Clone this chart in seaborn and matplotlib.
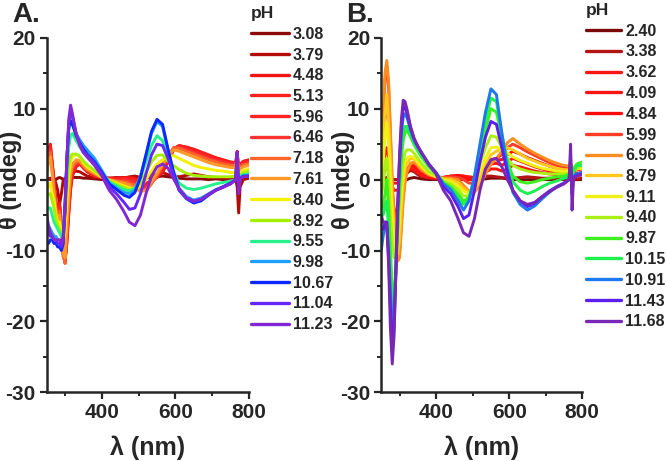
import matplotlib
matplotlib.use("Agg")
import matplotlib.pyplot as plt
import seaborn as sns
import pandas as pd

# ---------------- data ----------------
WAVELENGTH = [250, 255, 260, 265, 270, 275, 280, 285, 290, 295, 300, 305, 310, 315, 320,
              330, 340, 350, 360, 380, 400,
              420, 440, 460, 475, 490, 505, 520, 535, 550, 565,
              580, 595, 610, 630, 650, 670, 690, 710, 730, 750, 764, 768, 772, 776, 785, 800]

PH_A = ["3.08", "3.79", "4.48", "5.13", "5.96", "6.46", "7.18", "7.61",
        "8.40", "8.92", "9.55", "9.98", "10.67", "11.04", "11.23"]
COLORS_A = ["#8B0A0A", "#B40A0A", "#F01414", "#FF1E1E", "#FF2323", "#FF3232", "#FF6428",
            "#FF9A28", "#F5F000", "#A5F000", "#28F08C", "#1EA0FF", "#0A28FF", "#6428FF", "#8228D2"]

A_308 = [0, 0.1, 0, 0.2, 0.1, 0, 0.2, 0.3, 0.2, 0, 0.1, 0.2, 0.3, 0.4, 0.3, 0.3, 0.3, 0.2, 0.2, 0.1, 0,
         0.1, 0.2, 0.3, 0.2, 0.4, 0.3, 0.2, 0.3, 0.4, 0.5,
         0.4, 0.3, 0.2, 0.1, 0.1, 0.1, 0, 0.1, 0, 0, 0, 0.3, 0, 0.1, 0.1, 0.2]
A_379 = [0, 0.1, 0.2, 0.1, 0, -0.5, -1.5, -3.5, -2, 0, 0.2, 0.4, 0.6, 0.8, 1.0, 1.2, 1.1, 0.8, 0.5, 0.3, 0.2,
         0.2, 0.3, 0.2, 0.4, 0.5, 0.3, 0.3, 0.5, 0.8, 1.0,
         0.7, 0.5, 0.4, 0.6, 0.8, 0.6, 0.4, 0.3, 0.2, 0.1, 0, -1.0, -4.7, -1.0, 0, 0.2]
A_448 = [2.5, 4.2, 5.0, 2.5, 0, -3, -4, -3.2, -6, -10, -11.3, -9, -5, -1.5, 0.5, 1.8, 2.2, 1.6, 1.1, 0.5, 0.3,
         0.2, 0.2, 0.3, 0.3, 0.2, -0.3, -0.5, -0.2, 0.3, 1.0,
         2.5, 4.2, 4.8, 4.6, 4.3, 3.9, 3.5, 3.1, 2.8, 2.5, 2.4, 4.0, 1.5, 2.2, 2.6, 2.8]
A_513 = [2.8, 4.4, 4.8, 2.2, -0.5, -3.3, -4.2, -3.5, -6.5, -10.5, -11.8, -8.5, -4.5, -1, 0.8, 2, 2.3, 1.7, 1.2, 0.5, 0.3,
         0.2, 0.1, 0.2, 0.2, 0, -0.5, -0.7, -0.2, 0.4, 1.3,
         2.8, 4.3, 4.8, 4.5, 4.2, 3.8, 3.4, 3.0, 2.7, 2.4, 2.3, 3.8, 1.4, 2.1, 2.5, 2.7]
A_596 = [2.2, 4.0, 4.5, 2, -0.5, -3.5, -4.5, -4, -7, -10.5, -11.5, -8, -4, -0.5, 1, 2, 2.2, 1.7, 1.2, 0.6, 0.3,
         0.1, 0, 0.1, 0, -0.2, -0.8, -1.0, -0.3, 0.5, 1.6,
         3.0, 4.4, 4.7, 4.4, 4.0, 3.6, 3.2, 2.8, 2.5, 2.3, 2.2, 3.6, 1.3, 2.0, 2.4, 2.5]
A_646 = [1.8, 3.6, 4.2, 1.5, -1, -3.8, -4.8, -4.3, -7.2, -10.8, -11.2, -7.5, -3.5, 0, 1.5, 2.3, 2.4, 1.8, 1.3, 0.7, 0.3,
         0, -0.1, -0.1, -0.2, -0.5, -1.1, -1.3, -0.5, 0.5, 1.8,
         3.2, 4.5, 4.6, 4.2, 3.8, 3.4, 3.0, 2.7, 2.4, 2.2, 2.1, 3.4, 1.2, 1.9, 2.2, 2.4]
A_718 = [1.5, 3.0, 3.8, 1.2, -1.5, -4, -5, -4.5, -7.5, -10.8, -11.8, -7, -3, 0.5, 1.8, 2.5, 2.5, 1.9, 1.4, 0.8, 0.3,
         0, -0.2, -0.3, -0.5, -0.8, -1.4, -1.6, -0.6, 0.6, 2.0,
         3.3, 4.5, 4.4, 4.0, 3.6, 3.2, 2.8, 2.5, 2.2, 2.0, 2.0, 3.2, 1.0, 1.8, 2.1, 2.2]
A_761 = [1, 2.5, 3.2, 0.8, -2, -4.5, -5.5, -5, -8, -10.5, -11, -6, -2, 1, 2.2, 2.8, 2.7, 2, 1.5, 0.9, 0.3,
         0, -0.3, -0.5, -0.8, -1.2, -1.7, -1.5, -0.3, 0.9, 2.2,
         3.4, 4.2, 4.0, 3.6, 3.2, 2.8, 2.4, 2.1, 1.9, 1.7, 1.7, 3.0, 0.8, 1.5, 1.8, 2.0]
A_840 = [-1.5, -1, -0.5, -2, -3, -5, -6, -6, -7.5, -8.5, -7.5, -3, 0.5, 2.5, 3.2, 3.6, 3.2, 2.4, 1.8, 1.1, 0.4,
         -0.1, -0.5, -0.9, -1.2, -1.3, -1, 0, 1.2, 2.2, 2.8,
         3.2, 3.4, 3.0, 2.5, 2.0, 1.7, 1.5, 1.3, 1.2, 1.0, 1.0, 2.8, 0.3, 1.0, 1.3, 1.5]
A_892 = [-2.5, -2, -2, -3, -4, -5.5, -6.5, -7, -7.5, -7.5, -5, -1, 2, 3.3, 3.6, 3.6, 3.3, 2.6, 2.1, 1.3, 0.5,
         -0.2, -0.7, -1.1, -1.4, -1.3, -0.5, 1, 2.5, 3.4, 3.5,
         2.6, 2.0, 1.4, 0.9, 0.6, 0.5, 0.4, 0.4, 0.4, 0.4, 0.5, 2.5, 0, 0.7, 1.0, 1.2]
A_955 = [-4, -4, -4, -5, -6, -6.5, -7, -7.5, -8, -7.5, -3.5, 1, 4.5, 6.3, 6.5, 5.5, 4.6, 3.8, 3.2, 2.2, 1,
         -0.3, -0.9, -1.4, -1.6, -1.2, 0.3, 2.5, 4.8, 6.2, 5.5,
         3.0, 1.0, -0.5, -1.2, -1.4, -1.2, -0.9, -0.6, -0.4, -0.2, 0, 2.5, -0.5, 0.5, 0.7, 0.8]
A_998 = [-6, -6.5, -7, -7.5, -8, -8, -8.5, -8.5, -9, -8, -3, 3, 7, 8, 7.8, 6.5, 5.6, 4.8, 4.2, 3, 1.3,
         -0.5, -1.2, -1.8, -2.0, -1.5, 0.5, 3.5, 6.5, 8.2, 7.5,
         4.0, 1.2, -1.2, -2.4, -2.9, -2.6, -2.0, -1.4, -1.0, -0.5, 0, 3.0, -1.0, 0.3, 0.5, 0.6]
A_1067 = [-9, -9, -8.5, -8.5, -9, -9, -9.5, -9.5, -10, -9, -3.5, 3, 7.5, 8.3, 7.8, 6.2, 5.2, 4.3, 3.6, 2.5, 1,
          -0.6, -1.4, -2.2, -2.5, -1.8, 0.3, 3.5, 6.8, 8.5, 7.8,
          4.3, 1.0, -1.5, -2.7, -3.3, -3.0, -2.2, -1.5, -1.0, -0.5, 0, 3.5, -1.5, 0.2, 0.5, 0.5]
A_1104 = [-7, -7.5, -8, -8, -8.5, -8.5, -9, -9, -9.5, -8.5, -4, 3, 8, 9.5, 8.8, 6.5, 5, 4, 3.4, 2.3, 0.8,
          -1, -2, -3.2, -4.2, -4, -2, 0.8, 3.5, 5, 4.8,
          3.0, 0.6, -1.4, -2.6, -3.1, -2.8, -2.1, -1.5, -1.0, -0.6, 0, 3.8, -1.8, 0.2, 0.4, 0.5]
A_1123 = [-5, -6.5, -7.5, -8, -8.5, -8.5, -8.5, -8.5, -9, -8, -4.5, 2.5, 8.5, 10.5, 9.3, 6.5, 4.8, 3.8, 3.2, 2, 0.5,
          -1.5, -2.8, -4.5, -6, -6.5, -5, -2, 0.5, 1.8, 2.2,
          1.6, 0.1, -1.3, -2.6, -3.0, -2.8, -2.1, -1.5, -1.1, -0.6, 0, 3.9, -2.0, 0.2, 0.4, 0.5]

PH_B = ["2.40", "3.38", "3.62", "4.09", "4.84", "5.99", "6.96", "8.79",
        "9.11", "9.40", "9.87", "10.15", "10.91", "11.43", "11.68"]
COLORS_B = ["#780A0A", "#B41414", "#FF1414", "#FF1414", "#FF0A0A", "#FF3C28", "#FF8C1E",
            "#FFC81E", "#F0F014", "#AAF014", "#3CF01E", "#1EF050", "#1E78F0", "#5A1EF0", "#7828B4"]

B_240 = [0, 0, 0, 0, 0, 0, 0, 0, 0, 0, 0, 0, 0, 0, 0, 0.2, 0.3, 0.2, 0.1, 0, 0,
         0, 0, 0, 0, 0, 0, 0, 0.1, 0.2, 0.2,
         0.2, 0.1, 0, 0, 0, 0, 0, 0, 0, 0, 0, 0, 0, 0, 0, 0]
B_338 = [0, 0.1, 0.2, 0.3, 0.2, 0.1, 0, 0, 0, 0, 0, 0.1, 0.3, 0.6, 0.9, 1.3, 1.1, 0.7, 0.4, 0.2, 0.1,
         0.1, 0.2, 0.3, 0.3, 0.2, 0.2, 0.3, 0.5, 0.5, 0.4,
         0.3, 0.2, 0.2, 0.3, 0.4, 0.3, 0.2, 0.2, 0.1, 0.1, 0.1, 0.1, 0, 0.1, 0.1, 0.2]
B_362 = [0, 0.5, 1.5, 2, 1, 0, -0.5, -0.5, -0.5, -0.5, -0.5, 0, 0.5, 1, 1.3, 1.6, 1.4, 1, 0.6, 0.3, 0.2,
         0.3, 0.4, 0.5, 0.5, 0.4, 0.3, 0.5, 1.0, 1.5, 1.5,
         1.2, 1.5, 2.0, 1.8, 1.5, 1.2, 1.0, 0.8, 0.7, 0.6, 0.6, 0.8, 0.3, 0.5, 0.6, 0.7]
B_409 = [0.5, 1.5, 3.5, 4.5, 3, 0.5, -1, -1.5, -1.5, -1.5, -1, -0.2, 0.5, 1.2, 1.6, 1.9, 1.7, 1.2, 0.8, 0.4, 0.3,
         0.3, 0.5, 0.6, 0.5, 0.3, 0.3, 0.8, 1.5, 2.2, 2.3,
         2.0, 2.5, 3.0, 2.6, 2.2, 1.8, 1.5, 1.2, 1.0, 0.9, 0.9, 1.2, 0.6, 0.8, 0.9, 1.0]
B_484 = [1, 4, 9, 11, 8, 3, -2, -4, -5, -6, -5, -2.5, -0.5, 0.8, 1.5, 2.0, 2.0, 1.5, 1.0, 0.5, 0.3,
         0.3, 0.5, 0.5, 0.3, 0, 0, 0.8, 1.8, 2.7, 2.8,
         2.8, 3.5, 4.0, 3.6, 3.1, 2.7, 2.3, 1.9, 1.6, 1.4, 1.4, 1.8, 1.0, 1.2, 1.4, 1.5]
B_599 = [2, 7, 14, 16, 13, 6, -1, -6, -9, -11, -10.5, -6, -2, 0, 1.2, 2.2, 2.3, 1.8, 1.2, 0.6, 0.4,
         0.3, 0.4, 0.3, 0, -0.5, -0.5, 0.5, 1.8, 2.8, 3.0,
         3.5, 4.5, 5.0, 4.5, 3.9, 3.4, 2.9, 2.4, 2.0, 1.7, 1.7, 2.2, 1.2, 1.5, 1.7, 1.8]
B_696 = [3, 8, 15, 16.8, 14, 7, 0, -5, -9, -11.5, -11, -7, -3, -0.5, 1.0, 2.3, 2.5, 2.0, 1.4, 0.7, 0.4,
         0.2, 0.2, 0, -0.8, -1.6, -1.8, -0.8, 0.8, 2.2, 3.0,
         4.0, 5.2, 5.8, 5.0, 4.3, 3.7, 3.2, 2.7, 2.3, 2.0, 1.9, 2.5, 1.3, 1.7, 1.9, 2.0]
B_879 = [1, 4, 9, 12, 8, 3, -3, -7, -10, -10.5, -8.5, -4, -0.5, 1.5, 2.3, 3.0, 2.9, 2.3, 1.7, 0.8, 0.4,
         0.1, 0, -0.4, -1.2, -1.8, -1.5, 0, 2, 3.5, 4.0,
         4.3, 4.5, 4.2, 3.6, 3.0, 2.6, 2.2, 1.9, 1.6, 1.4, 1.4, 2.0, 1.0, 1.4, 1.6, 1.8]
B_911 = [-1, 2, 6, 8, 5, 0, -5, -9, -10.5, -9, -6, -2, 1, 2.5, 3.0, 3.3, 3.1, 2.5, 1.9, 0.9, 0.5,
         0, -0.3, -0.9, -1.6, -2.0, -1.0, 1.0, 3.0, 4.5, 4.6,
         4.2, 3.8, 3.2, 2.7, 2.3, 1.9, 1.6, 1.4, 1.2, 1.1, 1.1, 1.8, 0.8, 1.3, 1.5, 1.6]
B_940 = [-2, -1, 2, 3, 0, -5, -9, -11, -10, -7, -3, 0, 2.5, 3.8, 4.2, 4.2, 3.7, 3.0, 2.3, 1.1, 0.6,
         -0.2, -0.6, -1.4, -2.3, -2.3, -0.5, 2.2, 4.5, 6.2, 6.0,
         4.5, 3.0, 2.0, 1.5, 1.2, 1.0, 0.9, 0.8, 0.8, 0.8, 0.9, 1.8, 0.6, 1.2, 1.6, 2.0]
B_987 = [-4, -4, -2, 0, -4, -10, -15, -16.5, -13, -7, -1, 3, 5.5, 6.5, 7.0, 6.0, 4.9, 4.0, 3.2, 1.8, 0.8,
         -0.4, -1.0, -2.0, -3.0, -2.5, 0, 3.5, 7.0, 10.0, 9.5,
         6.0, 2.5, 0.5, -0.3, -0.5, -0.3, 0, 0.2, 0.4, 0.5, 0.7, 2.0, 0.3, 1.5, 2.2, 2.5]
B_1015 = [-5, -5, -4, -3, -7, -13, -17, -18, -13, -6, 0, 4, 6.5, 7.5, 7.5, 6.3, 5.1, 4.2, 3.4, 2.0, 0.9,
          -0.5, -1.2, -2.5, -3.5, -2.8, 0.3, 4.5, 8.5, 11.5, 11.0,
          6.5, 2.5, -0.3, -1.5, -2.0, -1.6, -1.0, -0.5, -0.2, 0.2, 0.4, 1.8, 0, 1.0, 2.0, 2.0]
B_1091 = [-10, -8, -6.5, -6, -10, -16, -20.5, -19, -12, -4, 2, 6.5, 8.8, 9.3, 8.8, 7.0, 5.6, 4.6, 3.8, 2.2, 1.0,
          -0.6, -1.4, -3.0, -4.3, -3.0, 0.5, 5.0, 9.5, 12.8, 12.0,
          6.5, 1.5, -1.8, -3.5, -4.3, -3.7, -2.7, -1.8, -1.0, -0.5, 0, 2.0, -1.0, 0.5, 0.8, 1.0]
B_1143 = [-7, -7, -6, -6, -11, -18, -23.5, -21, -13, -4, 3, 7.5, 10, 10.3, 9.5, 7.3, 5.7, 4.7, 3.8, 2.2, 0.9,
          -1.0, -2.0, -3.8, -5.5, -5.0, -1.5, 2.5, 6.0, 8.2, 7.8,
          4.5, 1.0, -1.5, -3.0, -3.8, -3.3, -2.4, -1.6, -1.0, -0.5, 0, 3.0, -2.0, 0.3, 0.6, 0.8]
B_1168 = [-5, -6, -6, -6.5, -12, -21, -26, -22, -13, -3.5, 3.5, 8.5, 11.2, 11, 10, 7.5, 5.8, 4.7, 3.8, 2.1, 0.8,
          -1.5, -3.0, -5.5, -7.5, -8.0, -5.5, -1.5, 1.5, 2.8, 3.0,
          1.8, 0.0, -1.5, -3.0, -3.5, -3.2, -2.4, -1.7, -1.1, -0.6, 0, 5.0, -4.3, 0.2, 0.5, 0.7]

SERIES_A = [A_308, A_379, A_448, A_513, A_596, A_646, A_718, A_761,
            A_840, A_892, A_955, A_998, A_1067, A_1104, A_1123]
SERIES_B = [B_240, B_338, B_362, B_409, B_484, B_599, B_696, B_879,
            B_911, B_940, B_987, B_1015, B_1091, B_1143, B_1168]

X_TICKS = [400, 600, 800]
Y_TICKS = [-30, -20, -10, 0, 10, 20]

# ---------------- styling ----------------
sns.set_style("ticks")
FONT = "Liberation Sans"
plt.rcParams["font.family"] = [FONT, "DejaVu Sans"]
plt.rcParams["font.weight"] = "bold"
plt.rcParams["axes.unicode_minus"] = False


def long_frame(labels, series):
    rows = []
    for lab, vals in zip(labels, series):
        for w, v in zip(WAVELENGTH, vals):
            rows.append((w, v, lab))
    return pd.DataFrame(rows, columns=["wl", "theta", "pH"])


fig = plt.figure(figsize=(6.66, 4.61), dpi=100)
axA = fig.add_axes([0.0701, 0.149, 0.3037, 0.769])
axB = fig.add_axes([0.5725, 0.149, 0.3018, 0.769])

# (axes, labels, colours, series, tag, tag x, legend anchor, handle length, text pad, ylabel x)
panels = [
    (axA, PH_A, COLORS_A, SERIES_A, "A.", 0.019, (250.5 / 666, 1 - 6 / 461), 2.38, 0.27, -0.122),
    (axB, PH_B, COLORS_B, SERIES_B, "B.", 0.519, (586.3 / 666, 1 - 3 / 461), 2.2, 0.25, -0.132),
]

for ax, labels, colors, series, tag, tagx, legpos, hlen, hpad, ylx in panels:
    df = long_frame(labels, series)
    sns.lineplot(data=df, x="wl", y="theta", hue="pH", hue_order=labels,
                 palette=dict(zip(labels, colors)), linewidth=2.1,
                 estimator=None, sort=False, ax=ax, legend=True)
    ax.set_xlim(250, 800)
    ax.set_ylim(-30, 20)
    ax.set_xticks(X_TICKS)
    ax.set_yticks(Y_TICKS)
    ax.set_xticks([300, 500, 700], minor=True)
    ax.set_yticks([-25, -15, -5, 5, 15], minor=True)
    ax.tick_params(axis="both", which="major", length=5, width=1.6, labelsize=15, pad=3)
    ax.tick_params(axis="both", which="minor", length=3, width=1.4)
    for lab in ax.get_xticklabels() + ax.get_yticklabels():
        lab.set_fontweight("bold")
    for s in ["left", "bottom"]:
        ax.spines[s].set_linewidth(1.8)
    sns.despine(ax=ax)
    ax.set_xlabel("λ (nm)", fontsize=18, fontweight="bold")
    ax.set_ylabel("θ (mdeg)", fontsize=17, fontweight="bold")
    ax.xaxis.set_label_coords(0.5, -0.123)
    ax.yaxis.set_label_coords(ylx, 0.6)
    handles, labs = ax.get_legend_handles_labels()
    leg = ax.legend(handles, labs, title="pH", loc="upper left",
                    bbox_to_anchor=legpos, bbox_transform=fig.transFigure,
                    frameon=False, handlelength=hlen, handletextpad=hpad,
                    labelspacing=0.36, borderpad=0, borderaxespad=0,
                    prop={"family": FONT, "weight": "bold", "size": 11.5},
                    title_fontproperties={"family": FONT, "weight": "bold", "size": 12.5},
                    alignment="left")
    for h in leg.legend_handles:
        h.set_linewidth(2.4)
    fig.text(tagx, 0.995, tag, fontsize=20, fontweight="bold", va="top", ha="left")

fig.savefig("out.png", dpi=100)
